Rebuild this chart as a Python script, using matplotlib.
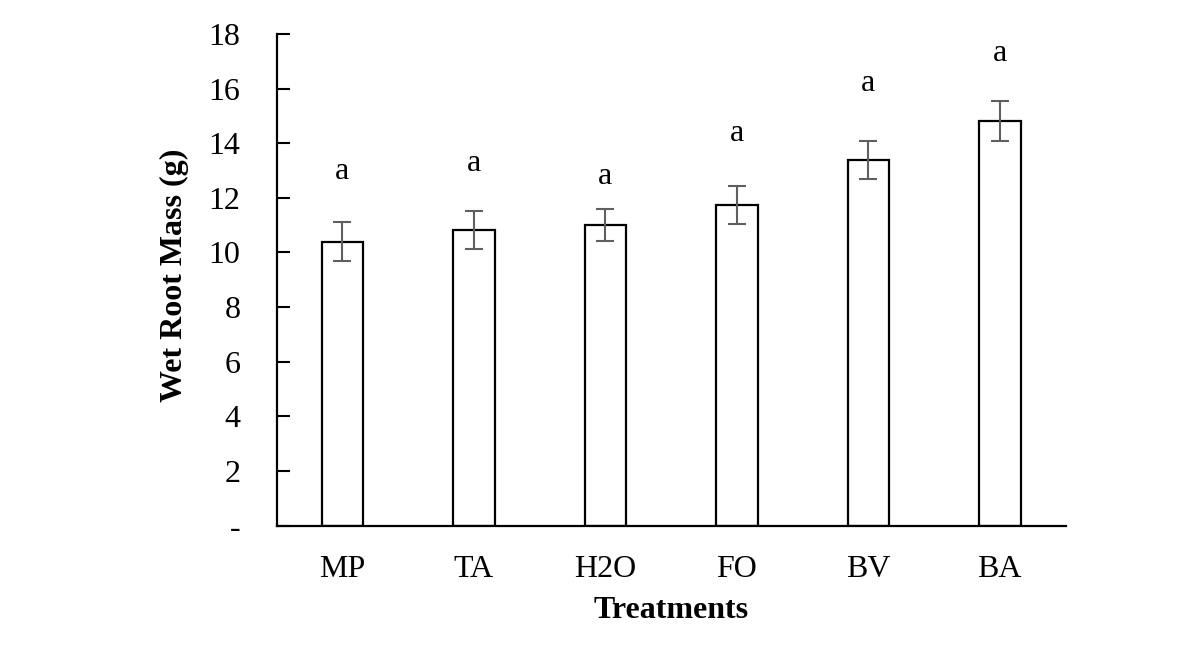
import numpy as np
import matplotlib.pyplot as plt

treatments = ['MP', 'TA', 'H2O', 'FO', 'BV', 'BA']
root_mass = [10.39, 10.82, 11.0, 11.73, 13.38, 14.81]
std_err = [0.71, 0.70, 0.58, 0.70, 0.70, 0.73]
letters = ['a', 'a', 'a', 'a', 'a', 'a']
letter_y = [12.95, 13.25, 12.77, 14.35, 16.18, 17.3]
y_ticks = [0, 2, 4, 6, 8, 10, 12, 14, 16, 18]
y_tick_labels = ['-', '2', '4', '6', '8', '10', '12', '14', '16', '18']

plt.rcParams['font.family'] = ['Liberation Serif', 'DejaVu Serif']
FS = 23

fig = plt.figure(figsize=(12.01, 6.51), dpi=100)
ax = fig.add_axes([0.2304, 0.1926, 0.6568, 0.7552])

x = np.arange(len(treatments))
ax.bar(x, root_mass, width=0.316, color='white', edgecolor='black', linewidth=1.6, zorder=2)
ax.errorbar(x, root_mass, yerr=std_err, fmt='none', ecolor='#5f5f5f',
            elinewidth=1.5, capsize=6.5, capthick=1.5, zorder=3)

for xi, ly, txt in zip(x, letter_y, letters):
    ax.text(xi, ly, txt, ha='center', va='center', fontsize=FS)

ax.set_xlim(-0.5, len(treatments) - 0.5)
ax.set_ylim(0, 18)
ax.set_yticks(y_ticks)
ax.set_yticklabels(y_tick_labels, fontsize=FS)
ax.set_xticks(x)
ax.set_xticklabels(treatments, fontsize=FS)
ax.tick_params(axis='y', direction='in', length=9, width=1.5, pad=26)
ax.tick_params(axis='x', length=0, pad=21)

for side in ['top', 'right']:
    ax.spines[side].set_visible(False)
for side in ['left', 'bottom']:
    ax.spines[side].set_linewidth(1.6)

ax.set_ylabel('Wet Root Mass (g)', fontsize=FS, fontweight='bold')
ax.set_xlabel('Treatments', fontsize=FS, fontweight='bold')
ax.yaxis.set_label_coords(-0.111, 0.51)
ax.xaxis.set_label_coords(0.5, -0.143)

fig.savefig('out.png', dpi=100)
